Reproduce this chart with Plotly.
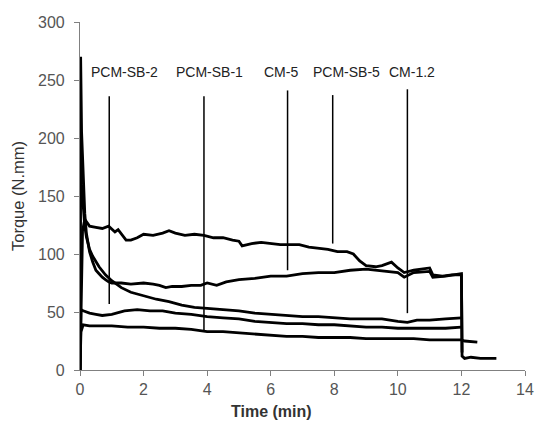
import plotly.graph_objects as go

# ---- data ----
tA = [0, 0.03, 0.08, 0.15, 0.3, 0.5, 0.7, 0.9, 1.1, 1.2, 1.3, 1.45, 1.6, 1.8, 2.0, 2.3, 2.6, 2.8, 3.0, 3.3,
      3.6, 3.9, 4.2, 4.5, 4.8, 5.0, 5.1, 5.4, 5.7, 6.0, 6.3, 6.6, 6.9, 7.2, 7.5, 7.8, 8.1, 8.4, 8.6, 8.8,
      9.0, 9.3, 9.5, 9.8, 10.0, 10.2, 10.5, 10.8, 11.0, 11.1, 11.4, 11.7, 12.0, 12.02, 12.1, 12.3, 12.6, 13.1]
vA = [0, 60, 120, 130, 124, 123, 122, 124, 119, 121, 117, 112, 112, 114, 117, 116, 118, 120, 118, 116,
      117, 116, 114, 114, 112, 111, 107, 109, 110, 109, 108, 108, 108, 106, 105, 104, 102, 102, 100, 94,
      90, 89, 90, 93, 88, 84, 86, 87, 88, 82, 81, 82, 82, 12, 10, 11, 10, 10]

tB = [0, 0.02, 0.05, 0.1, 0.15, 0.2, 0.3, 0.4, 0.5, 0.6, 0.7, 0.8, 0.9, 1.0, 1.3, 1.6, 2.0, 2.3, 2.5, 2.7,
      2.9, 3.2, 3.5, 3.8, 4.0, 4.3, 4.6, 5.0, 5.5, 6.0, 6.5, 7.0, 7.5, 8.0, 8.5, 9.0, 9.3, 9.6, 10.0, 10.2,
      10.5, 11.0, 11.1, 11.5, 12.0, 12.02]
vB = [0, 270, 205, 165, 135, 118, 102, 93, 86, 83, 80, 78, 76, 75, 75, 74, 75, 74, 73, 71,
      72, 72, 73, 73, 75, 73, 76, 78, 79, 81, 81, 83, 84, 84, 86, 87, 86, 85, 84, 80,
      84, 85, 80, 81, 83, 15]

tC = [0, 0.02, 0.05, 0.1, 0.15, 0.2, 0.3, 0.4, 0.5, 0.6, 0.8, 1.0, 1.3, 1.6, 2.0, 2.4, 2.8, 3.2, 3.6, 4.0,
      4.5, 5.0, 5.5, 6.0, 6.5, 7.0, 7.5, 8.0, 8.5, 9.0, 9.5, 10.0, 10.3, 10.6, 11.0, 11.5, 12.0]
vC = [0, 200, 160, 138, 124, 115, 104, 98, 93, 89, 82, 77, 71, 67, 64, 61, 59, 56, 54, 53,
      52, 51, 49, 48, 47, 46, 46, 45, 44, 44, 44, 42, 41, 43, 43, 44, 45]

tD = [0, 0.03, 0.1, 0.3, 0.5, 0.7, 1.0, 1.4, 1.8, 2.2, 2.6, 3.0, 3.5, 4.0, 4.5, 5.0, 5.5, 6.0, 6.5, 7.0,
      7.5, 8.0, 8.5, 9.0, 9.5, 10.0, 10.5, 11.0, 11.5, 12.0]
vD = [0, 52, 51, 49, 48, 47, 48, 51, 52, 51, 51, 49, 48, 46, 45, 44, 42, 41, 40, 40,
      39, 39, 38, 37, 37, 36, 36, 36, 36, 37]

tE = [0, 0.03, 0.1, 0.3, 0.6, 1.0, 1.5, 2.0, 2.5, 3.0, 3.5, 4.0, 4.5, 5.0, 5.5, 6.0, 6.5, 7.0, 7.5, 8.0,
      8.5, 9.0, 9.5, 10.0, 10.5, 11.0, 11.5, 12.0, 12.1, 12.5]
vE = [0, 33, 39, 38, 38, 38, 37, 37, 36, 36, 35, 33, 33, 32, 31, 30, 29, 29, 28, 28,
      28, 27, 27, 27, 27, 26, 26, 26, 25, 24]

# label pointer lines
label_names = ["PCM-SB-2", "PCM-SB-1", "CM-5", "PCM-SB-5", "CM-1.2"]
label_x = [1.4, 4.06, 6.33, 8.37, 10.43]
label_y = [257, 257, 257, 257, 257]
pointer_x = [0.92, 3.9, 6.53, 7.95, 10.3]
pointer_top = [236, 236, 241, 237, 242]
pointer_bottom = [57, 33, 86, 109, 49]

x_ticks = [0, 2, 4, 6, 8, 10, 12, 14]
y_ticks = [0, 50, 100, 150, 200, 250, 300]

FONT = "Liberation Sans, Arial"

fig = go.Figure()
for t, v in [(tA, vA), (tB, vB), (tC, vC), (tD, vD), (tE, vE)]:
    fig.add_trace(go.Scatter(x=t, y=v, mode="lines", line=dict(color="black", width=2.8),
                             showlegend=False, hoverinfo="skip"))

for px, top, bot in zip(pointer_x, pointer_top, pointer_bottom):
    fig.add_trace(go.Scatter(x=[px, px], y=[bot, top], mode="lines",
                             line=dict(color="black", width=1.5), showlegend=False, hoverinfo="skip"))

for name, lx, ly in zip(label_names, label_x, label_y):
    fig.add_annotation(x=lx, y=ly, text=name, showarrow=False, xref="x", yref="y",
                       font=dict(family=FONT, size=14, color="#222222"))

fig.add_annotation(x=0.43, y=0, xref="paper", yref="paper", yshift=-41, yanchor="middle",
                   text="<b>Time (min)</b>", showarrow=False,
                   font=dict(family=FONT, size=16, color="#333333"))
fig.add_annotation(x=0, y=0.5, xref="paper", yref="paper", xshift=-62, xanchor="center",
                   text="Torque (N.mm)", textangle=-90, showarrow=False,
                   font=dict(family=FONT, size=16.5, color="#333333"))

axis_common = dict(showgrid=False, zeroline=False, showline=True, linecolor="#808080", linewidth=1.2,
                   ticks="outside", ticklen=5, tickcolor="#808080",
                   tickfont=dict(family=FONT, size=16, color="#555555"))

fig.update_layout(
    width=546, height=421,
    margin=dict(l=80, r=17, t=22, b=51),
    paper_bgcolor="white", plot_bgcolor="white",
    xaxis=dict(range=[0, 14], tickvals=x_ticks, **axis_common),
    yaxis=dict(range=[0, 300], tickvals=y_ticks, ticklabelstandoff=6, **axis_common),
)

fig.write_html("out.html", config={"displayModeBar": False},
               post_script="document.body.style.margin='0';document.body.style.overflow='hidden';")
